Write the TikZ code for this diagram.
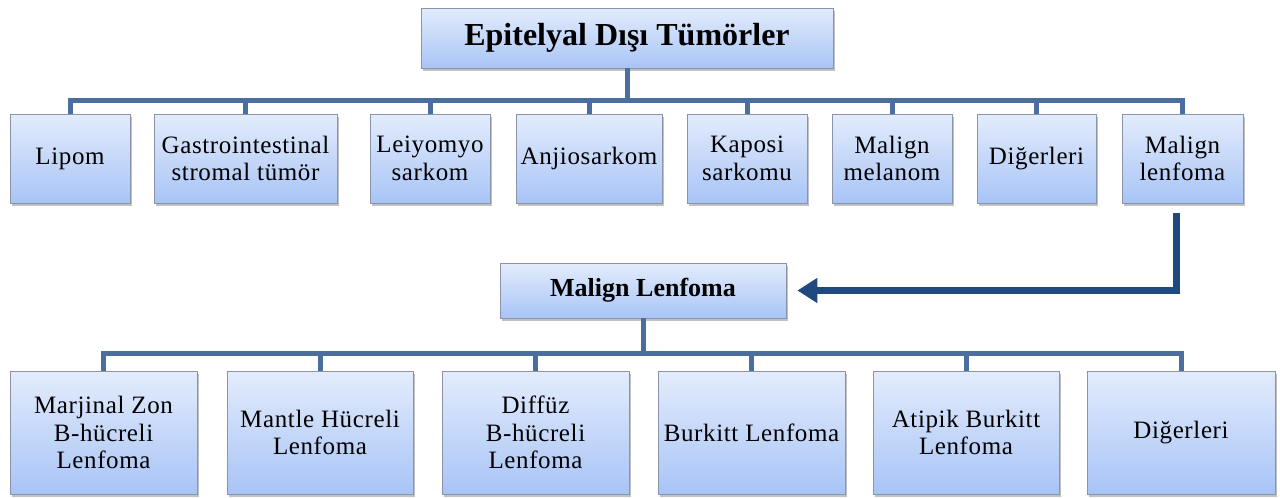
\documentclass[tikz,border=0pt]{standalone}
\usepackage{fontspec}
\setmainfont{Liberation Serif}
\newfontfamily\boxfont[LetterSpace=2.5]{Liberation Serif}
\usetikzlibrary{shadows,arrows.meta,calc}

\definecolor{boxtop}{HTML}{E3ECFC}
\definecolor{boxbot}{HTML}{A8C4F6}
\definecolor{boxline}{HTML}{8A94A6}
\definecolor{conncol}{HTML}{4A6E9E}
\definecolor{arrowcol}{HTML}{1F4A80}

\tikzset{
  box/.style={draw=boxline, line width=0.8pt, top color=boxtop, bottom color=boxbot,
    align=center, inner sep=0pt,
    drop shadow={shadow xshift=2pt, shadow yshift=-3pt, opacity=0.35, fill=black!70}},
  leaf/.style={box, font=\boxfont\fontsize{25}{27.5}\selectfont},
  headbox/.style={box, font=\bfseries\fontsize{32}{36}\selectfont},
  subhead/.style={box, font=\bfseries\fontsize{26}{30}\selectfont},
  conn/.style={draw=conncol, line width=5pt, line join=miter},
  bigarrow/.style={draw=arrowcol, line width=7pt, line join=miter,
    -{Triangle[length=20pt,width=24pt]}},
}

\begin{document}
\begin{tikzpicture}[x=1pt, y=-1pt]
\useasboundingbox (0,0) rectangle (1280,498);

% top level
\node[headbox, minimum width=412pt, minimum height=60pt] (top) at (627,38) {Epitelyal Dışı Tümörler};

% first row
\node[leaf, minimum width=120pt, minimum height=89pt] (lipom)  at (70,158.5)   {Lipom};
\node[leaf, minimum width=183pt, minimum height=89pt] (gist)   at (245.5,158.5) {Gastrointestinal\\stromal tümör};
\node[leaf, minimum width=120pt, minimum height=89pt] (leiyo)  at (430,158.5)  {Leiyomyo\\sarkom};
\node[leaf, minimum width=146pt, minimum height=89pt] (anjio)  at (589,158.5)  {Anjiosarkom};
\node[leaf, minimum width=120pt, minimum height=89pt] (kaposi) at (747,158.5)  {Kaposi\\sarkomu};
\node[leaf, minimum width=120pt, minimum height=89pt] (melan)  at (892,158.5)  {Malign\\melanom};
\node[leaf, minimum width=119pt, minimum height=89pt] (diger)  at (1036.5,158.5) {Diğerleri};
\node[leaf, minimum width=121pt, minimum height=89pt] (lenf)   at (1182.5,158.5) {Malign\\lenfoma};

% second level
\node[subhead, minimum width=286pt, minimum height=55pt] (ml) at (643,290.5) {Malign Lenfoma};

% second row
\node[leaf, minimum width=187pt, minimum height=123pt] (marj)  at (103.5,432.5) {Marjinal Zon\\B-hücreli\\Lenfoma};
\node[leaf, minimum width=186pt, minimum height=123pt] (mant)  at (320,432.5)   {Mantle Hücreli\\Lenfoma};
\node[leaf, minimum width=187pt, minimum height=123pt] (diff)  at (535.5,432.5) {Diffüz\\B-hücreli\\Lenfoma};
\node[leaf, minimum width=187pt, minimum height=123pt] (burk)  at (751.5,432.5) {Burkitt Lenfoma};
\node[leaf, minimum width=186pt, minimum height=123pt] (atip)  at (966,432.5)   {Atipik Burkitt\\Lenfoma};
\node[leaf, minimum width=188pt, minimum height=123pt] (diger2) at (1181,432.5) {Diğerleri};

% tree connectors
\foreach \c in {lipom,gist,leiyo,anjio,kaposi,melan,diger,lenf}
  \draw[conn] (top.south) -- ++(0,32) -| (\c.north);
\foreach \c in {marj,mant,diff,burk,atip,diger2}
  \draw[conn] (ml.south) -- ++(0,35) -| (\c.north);

% link from the lymphoma leaf to its breakdown
\draw[bigarrow, shorten >=11pt] ($(lenf.south)+(-6,10)$) |- (ml.east);
\end{tikzpicture}
\end{document}
